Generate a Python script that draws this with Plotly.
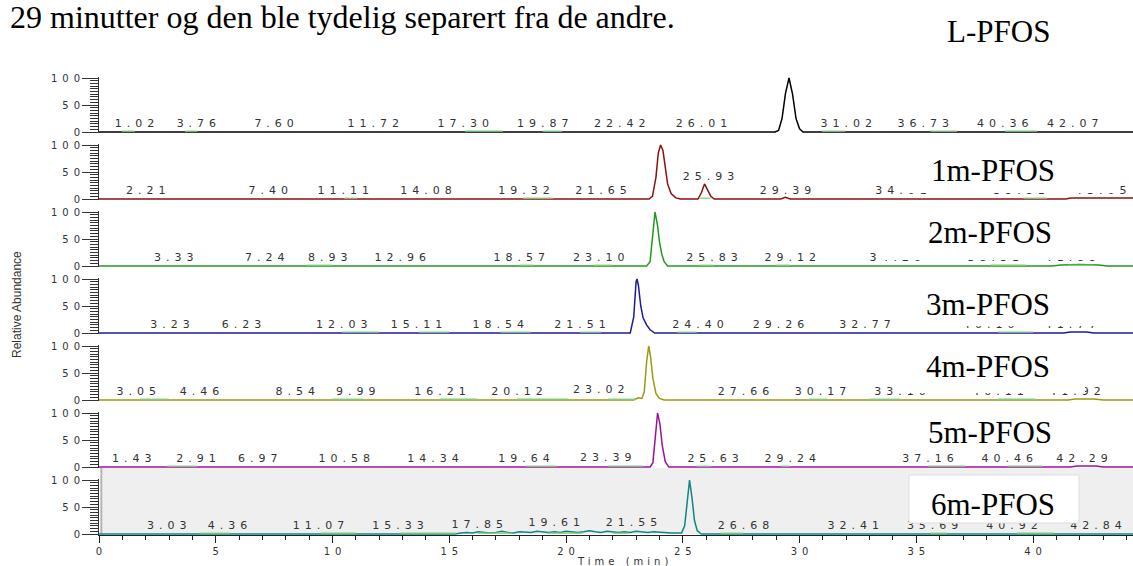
import plotly.graph_objects as go

# ---------------- data ----------------
panel_names = ["L-PFOS", "1m-PFOS", "2m-PFOS", "3m-PFOS", "4m-PFOS", "5m-PFOS", "6m-PFOS"]
panel_colors = ["#000000", "#8b1010", "#1f9a1f", "#1c1c96", "#9a9a12", "#9a129a", "#108585"]
mark_color = "#7ccf7c"

# chromatogram traces: time (min) and relative abundance (%)
l_time = [0, 28.95, 29.1, 29.25, 29.4, 29.55, 29.7, 29.85, 30.0, 30.15, 44.28]
l_abund = [0, 0, 3, 25, 72, 100, 70, 25, 6, 0, 0]

m1_time = [0, 23.55, 23.7, 23.85, 23.95, 24.05, 24.15, 24.25, 24.35, 24.5, 24.7, 24.9,
           25.65, 25.8, 25.93, 26.05, 26.2, 26.35, 29.2, 29.39, 29.6, 41.4, 41.6, 44.28]
m1_abund = [0, 0, 5, 40, 85, 100, 90, 55, 28, 10, 2, 0,
            0, 12, 28, 18, 5, 0, 0, 3, 0, 0, 2, 2]

m2_time = [0, 23.45, 23.6, 23.7, 23.81, 23.92, 24.0, 24.1, 24.2, 24.35, 40.8, 41.2, 42.0, 42.8, 43.2, 44.28]
m2_abund = [0, 0, 8, 55, 100, 75, 45, 22, 8, 0, 0, 2, 3, 2, 0, 0]

m3_time = [0, 22.75, 22.9, 23.0, 23.04, 23.1, 23.2, 23.3, 23.45, 23.6, 23.8, 41.3, 41.6, 42.3, 42.6, 44.28]
m3_abund = [0, 0, 30, 95, 100, 88, 50, 28, 15, 6, 0, 0, 2, 2, 0, 0]

m4_time = [0, 22.9, 23.1, 23.25, 23.35, 23.45, 23.54, 23.62, 23.72, 23.85, 24.0, 24.2,
           41.5, 41.8, 42.6, 43.0, 44.28]
m4_abund = [0, 0, 4, 3, 15, 70, 100, 80, 40, 12, 3, 0,
            0, 2, 2, 0, 0]

m5_time = [0, 23.6, 23.72, 23.82, 23.92, 24.02, 24.12, 24.25, 24.4, 41.6, 41.9, 42.7, 43.0, 44.28]
m5_abund = [0, 0, 8, 60, 100, 80, 40, 10, 0, 0, 2, 2, 0, 0]

m6_time = [0, 15.25, 15.5, 15.75, 16.0, 16.25, 16.5, 16.75, 17.0, 17.25, 17.5, 17.75, 18.0,
           18.25, 18.5, 18.75, 19.0, 19.25, 19.5, 19.75, 20.0, 20.25, 20.5, 20.75, 21.0,
           21.25, 21.5, 21.75, 22.0, 22.25, 22.5, 22.75, 23.0, 23.25, 23.5, 23.75, 24.0,
           24.25, 24.5, 24.75, 24.95, 25.08, 25.18, 25.29, 25.4, 25.5, 25.62, 25.8, 44.28]
m6_abund = [0, 0, 2, 3, 2, 4, 3, 2, 3, 5, 3, 2,
            4, 3, 3, 5, 4, 3, 4, 3, 5, 4, 3, 4,
            6, 4, 3, 5, 4, 3, 4, 3, 5, 4, 3, 4,
            3, 3, 2, 2, 2, 15, 60, 100, 65, 25, 6, 0, 0]

panel_times = [l_time, m1_time, m2_time, m3_time, m4_time, m5_time, m6_time]
panel_abunds = [l_abund, m1_abund, m2_abund, m3_abund, m4_abund, m5_abund, m6_abund]

# small green integration marks on the baseline: (start, end) in minutes
l_marks = [(0.98, 1.54), (3.68, 4.2), (15.67, 17.3), (19.0, 19.83), (30.96, 31.95), (35.6, 36.74), (38.8, 40.17)]
m1_marks = [(10.5, 11.05), (18.16, 19.44), (25.7, 26.2), (39.6, 40.6)]
m2_marks = [(8.9, 10.0), (18.0, 18.6), (21.2, 22.0), (25.7, 26.3), (29.0, 29.6), (38.2, 39.7), (41.5, 42.6)]
m3_marks = [(10.4, 12.0), (13.7, 15.0), (17.2, 18.5), (20.6, 21.5), (24.75, 25.6), (38.5, 40.0)]
m4_marks = [(1.75, 3.0), (10.0, 11.3), (14.6, 16.2), (17.9, 20.1), (21.8, 23.0), (30.4, 31.2), (33.0, 34.3), (38.5, 40.1)]
m5_marks = [(2.9, 4.2), (18.3, 19.6), (21.8, 23.3), (25.6, 26.2), (29.2, 29.6), (35.5, 37.1), (38.9, 40.4)]
m6_marks = [(4.3, 5.6), (9.5, 11.0), (12.9, 15.3), (16.2, 17.7), (19.2, 20.7), (22.0, 22.7), (26.6, 27.6), (35.6, 36.3), (39.3, 40.9)]
panel_marks = [l_marks, m1_marks, m2_marks, m3_marks, m4_marks, m5_marks, m6_marks]
mark_level = 1.5

# peak labels: text, horizontal position (min) and height (%) as seen in the picture
l_lab = ["1.02", "3.76", "7.60", "11.72", "17.30", "19.87", "22.42", "26.01", "29.55", "31.02", "36.73", "40.36", "42.07"]
l_lab_x = [1.52, 4.17, 7.5, 11.74, 15.6, 19.0, 22.3, 25.8, 29.3, 32.0, 35.3, 38.7, 41.7]
l_lab_y = [14, 14, 14, 14, 14, 14, 14, 14, 111, 14, 14, 14, 14]

m1_lab = ["2.21", "7.40", "11.11", "14.08", "19.32", "21.65", "24.09", "25.93", "29.39", "34.01", "39.81", "43.05"]
m1_lab_x = [2.0, 7.25, 10.46, 14.0, 18.2, 21.5, 24.0, 26.1, 29.4, 34.35, 39.4, 42.9]
m1_lab_y = [14, 14, 14, 14, 14, 14, 111, 41, 14, 14, 14, 14]

m2_lab = ["3.33", "7.24", "8.93", "12.96", "18.57", "23.10", "23.81", "25.83", "29.12", "34.20", "38.31", "41.89"]
m2_lab_x = [3.2, 7.1, 9.8, 12.9, 18.0, 21.4, 23.6, 26.25, 29.6, 34.1, 38.3, 41.6]
m2_lab_y = [14, 14, 14, 14, 14, 14, 111, 14, 14, 14, 14, 14]

m3_lab = ["3.23", "6.23", "12.03", "15.11", "18.54", "21.51", "23.04", "24.40", "29.26", "32.77", "40.10", "41.77"]
m3_lab_x = [3.04, 6.1, 10.4, 13.6, 17.1, 20.6, 23.0, 25.65, 29.1, 32.8, 38.1, 41.6]
m3_lab_y = [14, 14, 14, 14, 14, 14, 111, 14, 14, 14, 14, 14]

m4_lab = ["3.05", "4.46", "8.54", "9.99", "16.21", "20.12", "23.02", "23.54", "27.66", "30.17", "33.10", "40.11", "41.92"]
m4_lab_x = [1.6, 4.3, 8.4, 11.0, 14.6, 17.9, 21.4, 23.4, 27.6, 30.9, 34.3, 38.5, 41.8]
m4_lab_y = [14, 14, 14, 14, 14, 14, 18, 113, 14, 14, 14, 14, 14]

m5_lab = ["1.43", "2.91", "6.97", "10.58", "14.34", "19.64", "23.39", "23.92", "25.63", "29.24", "37.16", "40.46", "42.29"]
m5_lab_x = [1.4, 4.15, 6.8, 10.5, 14.3, 18.2, 21.7, 23.8, 26.3, 29.6, 35.5, 38.9, 42.1]
m5_lab_y = [14, 14, 14, 14, 14, 14, 17, 113, 14, 14, 14, 14, 14]

m6_lab = ["3.03", "4.36", "11.07", "15.33", "17.85", "19.61", "21.55", "25.29", "26.68", "32.41", "35.69", "40.92", "42.84"]
m6_lab_x = [2.9, 5.5, 9.4, 12.8, 16.2, 19.5, 22.8, 25.2, 27.6, 32.3, 35.7, 39.1, 42.7]
m6_lab_y = [14, 14, 14, 14, 17, 20, 20, 111, 14, 14, 14, 14, 14]

panel_labels = [l_lab, m1_lab, m2_lab, m3_lab, m4_lab, m5_lab, m6_lab]
panel_label_x = [l_lab_x, m1_lab_x, m2_lab_x, m3_lab_x, m4_lab_x, m5_lab_x, m6_lab_x]
panel_label_y = [l_lab_y, m1_lab_y, m2_lab_y, m3_lab_y, m4_lab_y, m5_lab_y, m6_lab_y]

x_ticks = [0, 5, 10, 15, 20, 25, 30, 35, 40]
y_ticks = [0, 50, 100]

title_text = "29 minutter og den ble tydelig separert fra de andre."
x_title = "Time (min)"
y_title = "Relative Abundance"

# ---------------- layout geometry (pixels) ----------------
W, H = 1133, 566
ML = 99
PW = W - ML
X_MAX = 44.28
PITCH = 67
FIRST_ZERO = 132
UNIT = 0.54          # px per % unit
Y_LO, Y_HI = -2, 102
GREY = "#333333"


def px(xp):
    return (xp - ML) / PW


def py(yp):
    return (H - yp) / H


fig = go.Figure()
n = len(panel_names)
small_font = dict(family="DejaVu Sans", size=11, color=GREY)
tick_font = dict(family="DejaVu Sans", size=10, color=GREY)

for k in range(n):
    ax = "" if k == 0 else str(k + 1)
    yref = "y" + ax
    fig.add_trace(go.Scatter(
        x=panel_times[k], y=panel_abunds[k], mode="lines",
        line=dict(color=panel_colors[k], width=1.5),
        xaxis="x", yaxis=yref, hoverinfo="skip", showlegend=False))
    mx, my = [], []
    for t0, t1 in panel_marks[k]:
        mx += [t0, t1, None]
        my += [mark_level, mark_level, None]
    fig.add_trace(go.Scatter(
        x=mx, y=my, mode="lines", line=dict(color=mark_color, width=1.2),
        xaxis="x", yaxis=yref, hoverinfo="skip", showlegend=False))
    fig.add_trace(go.Scatter(
        x=panel_label_x[k], y=panel_label_y[k], text=panel_labels[k], mode="text",
        textposition="middle center", textfont=small_font, cliponaxis=False,
        xaxis="x", yaxis=yref, hoverinfo="skip", showlegend=False))

    zero = FIRST_ZERO + PITCH * k
    bottom = zero - Y_LO * UNIT
    top = zero - Y_HI * UNIT
    fig.layout["yaxis" + ax] = dict(
        domain=[py(bottom), py(top)], range=[Y_LO, Y_HI], anchor="x",
        tickmode="array", tickvals=y_ticks, ticks="outside", ticklen=16, tickwidth=1,
        tickcolor=GREY, showline=True, linecolor=GREY, linewidth=1,
        minor=dict(ticks="outside", tickmode="linear", tick0=0, dtick=5, ticklen=8,
                   tickcolor=GREY, tickwidth=1),
        showgrid=False, zeroline=False, automargin=False,
        tickfont=tick_font)

last_zero = FIRST_ZERO + PITCH * (n - 1)

fig.update_layout(
    width=W, height=H,
    margin=dict(l=ML, r=0, t=0, b=0),
    paper_bgcolor="white", plot_bgcolor="rgba(0,0,0,0)",
    showlegend=False,
    xaxis=dict(range=[0, X_MAX], anchor="y7", domain=[0, 1],
               tickmode="array", tickvals=x_ticks, ticks="outside", ticklen=7,
               tickcolor="#222222", showline=True, linecolor="#222222", linewidth=1,
               minor=dict(ticks="outside", tickmode="linear", tick0=0, dtick=1, ticklen=4,
                          tickcolor="#222222"),
               showgrid=False, zeroline=False, automargin=False,
               tickfont=tick_font),
)

shapes = []
# grey selection background of the last panel
shapes.append(dict(type="rect", xref="x", yref="paper", x0=0.1, x1=X_MAX,
                   y0=py(last_zero), y1=py(last_zero - PITCH + 1),
                   fillcolor="#efefef", line=dict(width=0), layer="below"))
shapes.append(dict(type="line", xref="x", yref="paper", x0=0.1, x1=0.1,
                   y0=py(last_zero), y1=py(last_zero - PITCH + 1),
                   line=dict(color="#b5b5b5", width=2), layer="below"))
# white text boxes placed over the chromatogram
boxes = [(908, 1118, 147, 193), (882, 1100, 210, 260), (905, 1100, 282, 326),
         (900, 1085, 345, 393)]
for x0, x1, y0, y1 in boxes:
    shapes.append(dict(type="rect", xref="paper", yref="paper", x0=px(x0), x1=px(x1),
                       y0=py(y1), y1=py(y0), fillcolor="white", line=dict(width=0),
                       layer="above"))
shapes.append(dict(type="rect", xref="paper", yref="paper", x0=px(909), x1=px(1079),
                   y0=py(523), y1=py(475), fillcolor="white",
                   line=dict(color="#dddddd", width=1), layer="above"))
fig.update_layout(shapes=shapes)

ann = []
serif = dict(family="Liberation Serif", size=31, color="black")
name_pos = [(998, 32), (993, 170), (990, 232), (988, 304), (988, 367), (990, 432), (993, 504)]
for name, (xp, yp) in zip(panel_names, name_pos):
    ann.append(dict(text=name, xref="paper", yref="paper", x=px(xp), y=py(yp),
                    xanchor="center", yanchor="middle", showarrow=False, font=serif))
ann.append(dict(text=title_text, xref="paper", yref="paper", x=px(8), y=py(17),
                xanchor="left", yanchor="middle", showarrow=False,
                font=dict(family="Liberation Serif", size=32, color="black")))
ann.append(dict(text=x_title, xref="paper", yref="paper", x=px(622), y=py(561),
                xanchor="center", yanchor="middle", showarrow=False,
                font=dict(family="DejaVu Sans", size=10, color=GREY)))
ann.append(dict(text=y_title, xref="paper", yref="paper", x=px(17), y=py(305),
                xanchor="center", yanchor="middle", showarrow=False, textangle=-90,
                font=dict(family="Liberation Sans", size=12, color=GREY)))
fig.update_layout(annotations=ann)

# page without the default body margin; widen the instrument-style small labels
post_js = """
document.body.style.margin = '0';
var gd = document.getElementById('{plot_id}');
gd.querySelectorAll('g.textpoint text').forEach(function(t){
  t.style.letterSpacing = '5px'; t.setAttribute('dx', '2.5');
});
gd.querySelectorAll('.xaxislayer-above text').forEach(function(t){
  t.style.letterSpacing = '5px'; t.setAttribute('dx', '2.5');
});
gd.querySelectorAll('.yaxislayer-above text').forEach(function(t){
  t.style.letterSpacing = '5px'; t.setAttribute('dx', '5');
});
gd.querySelectorAll('g.annotation text').forEach(function(t){
  if (t.textContent === 'Time (min)') { t.style.letterSpacing = '4px'; t.setAttribute('dx', '2'); }
});
"""

fig.write_html("out.html", post_script=post_js, config={"displayModeBar": False})
